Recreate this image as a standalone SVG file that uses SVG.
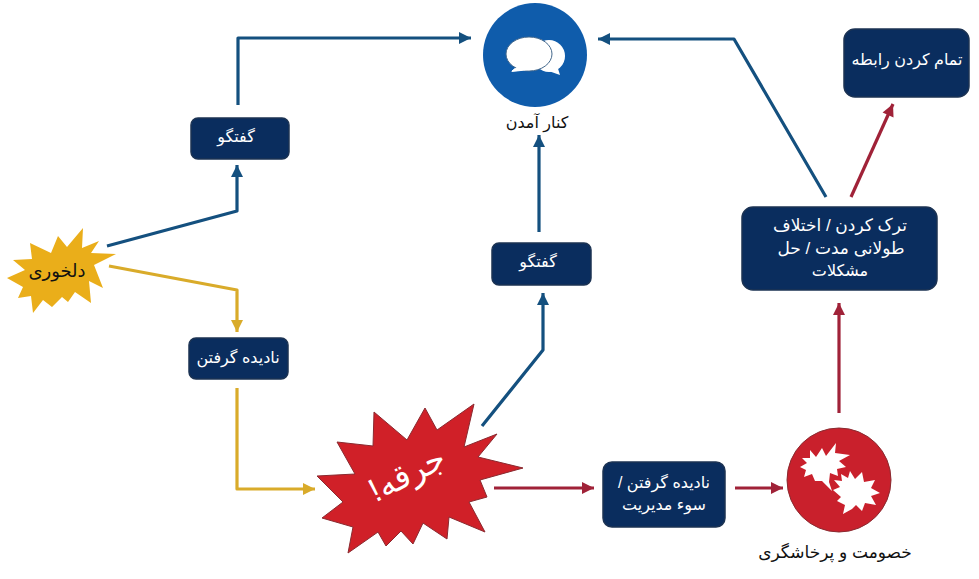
<svg xmlns="http://www.w3.org/2000/svg" width="979" height="579" viewBox="0 0 979 579">
<style>
.box{fill:#0a2d5e;stroke:#1c3353;stroke-width:1.5}
.t{font-family:"Liberation Sans","DejaVu Sans",sans-serif;font-size:16px;text-anchor:middle;direction:rtl}
.w{fill:#fff}.k{fill:#111}
.c{fill:none;stroke-width:3.2;stroke-linejoin:round}
.b{stroke:#14507f}.y{stroke:#d9ab2a}.r{stroke:#a02238}
</style>
<defs>
<marker id="ab" markerUnits="userSpaceOnUse" markerWidth="16" markerHeight="16" refX="13" refY="8" orient="auto"><path d="M1 2L13 8L1 14Z" fill="#14507f"/></marker>
<marker id="ay" markerUnits="userSpaceOnUse" markerWidth="16" markerHeight="16" refX="13" refY="8" orient="auto"><path d="M1 2L13 8L1 14Z" fill="#d9ab2a"/></marker>
<marker id="ar" markerUnits="userSpaceOnUse" markerWidth="16" markerHeight="16" refX="13" refY="8" orient="auto"><path d="M1 2L13 8L1 14Z" fill="#a02238"/></marker>
</defs>
<rect width="979" height="579" fill="#fff"/>
<g id="connectors">
<path class="c b" marker-end="url(#ab)" d="M238 105V38H471"/>
<path class="c b" marker-end="url(#ab)" d="M107 246L237 211V165"/>
<path class="c b" marker-end="url(#ab)" d="M539 232V135"/>
<path class="c b" marker-end="url(#ab)" d="M482 426L543 350V293"/>
<path class="c b" marker-end="url(#ab)" d="M826 197L734 39H598"/>
<path class="c y" marker-end="url(#ay)" d="M109 266L237 290V332"/>
<path class="c y" marker-end="url(#ay)" d="M237 388V489H315"/>
<path class="c r" marker-end="url(#ar)" d="M494 488H594"/>
<path class="c r" marker-end="url(#ar)" d="M735 488H783"/>
<path class="c r" marker-end="url(#ar)" d="M839 413V303"/>
<path class="c r" marker-end="url(#ar)" d="M851 197L893 104"/>
</g>
<g id="meet">
<circle cx="535" cy="55" r="52" fill="#0f5cab"/>
<ellipse cx="549" cy="56" rx="16" ry="16" fill="#fff"/>
<path d="M540 68L560 75L556 62Z" fill="#fff"/>
<path d="M518 66L512 71L534 69Z" fill="#fff" stroke="#fff"/>
<ellipse cx="529" cy="54" rx="23" ry="17" fill="#fff" stroke="#44688c" stroke-width="1"/>
<path d="M517 67L511 72L531 70" fill="#fff"/>
<text class="t k" x="537" y="128">كنار آمدن</text>
</g>
<g id="goft1"><rect class="box" x="191" y="118" width="98" height="41" rx="7"/><text class="t w" x="236" y="142">گفتگو</text></g>
<g id="goft2"><rect class="box" x="492" y="243" width="99" height="42" rx="7"/><text class="t w" x="538" y="267">گفتگو</text></g>
<g id="nadide"><rect class="box" x="189" y="338" width="99" height="41" rx="7"/><text class="t w" x="238" y="363">نادیده گرفتن</text></g>
<g id="sou"><rect class="box" x="603" y="462" width="122" height="65" rx="9"/><text class="t w" x="664" y="488">نادیده گرفتن /</text><text class="t w" x="664" y="510">سوء مدیریت</text></g>
<g id="tark"><rect class="box" x="742" y="207" width="195" height="83" rx="11"/><text class="t w" x="840" y="231" style="font-size:17px">ترک کردن / اختلاف</text><text class="t w" x="841" y="254" style="font-size:17px">طولانی مدت / حل</text><text class="t w" x="840" y="276">مشکلات</text></g>
<g id="tamam"><rect class="box" x="844" y="29" width="125" height="68" rx="11"/><text class="t w" x="907" y="65">تمام کردن رابطه</text></g>
<g id="delkhori">
<polygon fill="#eaae1a" points="30,243 51,253 58,236 67,247 83,228 82,248 99,241 91,253 116,254 94,265 103,288 89,281 91,303 75,292 68,302 62,297 52,307 43,300 33,313 31,296 18,298 23,287 7,278 25,270 13,260 32,259"/>
<text class="t k" x="57" y="277" style="font-size:18px">دلخوری</text>
</g>
<g id="jarghe">
<polygon fill="#d02028" stroke="#8a2a30" stroke-width="1" points="374,412 407,440 425,408 437,430 474,404 464,447 497,434 478,457 523,468 480,480 487,497 469,502 485,532 449,517 447,539 423,523 413,544 401,531 386,546 378,532 348,553 353,527 322,518 343,502 317,476 355,474 337,442 373,446"/>
<text class="t w" transform="translate(412 484) rotate(-27)" x="0" y="0" style="font-size:33px">جرقه!</text>
</g>
<g id="khosoumat">
<circle cx="839" cy="480" r="52" fill="#c9202c" stroke="#8a2a30" stroke-width="1"/>
<polygon fill="#fff" points="810,450 816,457 822,448 826,456 836,443 835,453 850,455 839,461 846,467 837,469 838,476 830,473 829,482 832,491 822,481 815,481 812,474 804,477 806,470 800,467 807,463 802,458 810,458"/>
<polygon fill="#fff" points="850,471 855,479 862,472 864,482 875,480 871,488 880,493 871,496 876,505 865,503 862,511 856,505 852,509 843,514 845,505 837,501 841,497 833,490 840,487 834,480 842,481 841,474 848,478"/>
<text class="t k" x="835" y="558" style="font-size:17px">خصومت و پرخاشگری</text>
</g>
</svg>
